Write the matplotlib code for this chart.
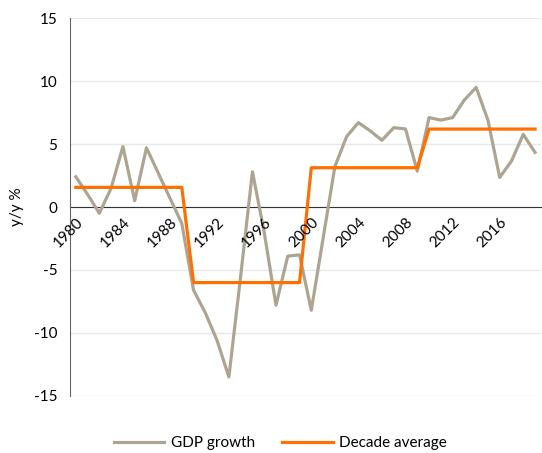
import numpy as np
import matplotlib
matplotlib.use('Agg')
import matplotlib.pyplot as plt

plt.rcParams['font.family'] = ['Lato', 'DejaVu Sans']
plt.rcParams['axes.unicode_minus'] = False

years = list(range(1980, 2020))
gdp_growth = [2.4, 1.0, -0.5, 1.5, 4.8, 0.5, 4.7, 2.7, 0.7, -1.3,
              -6.6, -8.4, -10.6, -13.5, -5.5, 2.8, -2.0, -7.8, -3.9, -3.8,
              -8.2, -2.5, 3.2, 5.6, 6.7, 6.05, 5.3, 6.3, 6.2, 2.85,
              7.1, 6.9, 7.1, 8.5, 9.5, 6.9, 2.35, 3.65, 5.77, 4.34]
decade_avg = [1.56, -6.0, 3.12, 6.19]   # 1980s, 1990s, 2000s, 2010s
tick_years = list(range(1980, 2020, 4))

decade_line = np.repeat(decade_avg, 10)

fig = plt.figure(figsize=(5.42, 4.53), dpi=100)
ax = fig.add_axes([0.129, 0.126, 0.869, 0.834])

ax.plot(years, gdp_growth, color='#ADA591', lw=2.3, label='GDP growth')
ax.plot(years, decade_line, color='#FF7000', lw=2.3, label='Decade average')

ax.set_xlim(1979.5, 2019.5)
ax.set_ylim(-15, 15)
ax.set_yticks(np.arange(-15, 16, 5))
ax.yaxis.grid(True, color='#E8E8E8', lw=1)
ax.set_axisbelow(True)

for s in ['top', 'right']:
    ax.spines[s].set_visible(False)
ax.spines['bottom'].set_position(('data', 0))
ax.spines['bottom'].set_color('#333333')
ax.spines['bottom'].set_zorder(1)
ax.spines['left'].set_color('#666666')

ax.set_xticks(tick_years)
ax.set_xticklabels([str(y) for y in tick_years], rotation=45, ha='right',
                   va='top', rotation_mode='anchor')
ax.xaxis.set_zorder(3)   # year labels sit on top of the lines
ax.tick_params(axis='both', length=0, labelsize=11, colors='black')
ax.tick_params(axis='x', pad=6)
ax.tick_params(axis='y', pad=9)

ax.set_ylabel('y/y %', fontsize=11)
ax.yaxis.set_label_coords(-0.098, 0.5)

fig.legend(loc='center', bbox_to_anchor=(0.517, 0.022), ncol=2, frameon=False,
           fontsize=11, handlelength=3.3, handletextpad=0.4, columnspacing=1.8)

plt.savefig('out.png', dpi=100)
